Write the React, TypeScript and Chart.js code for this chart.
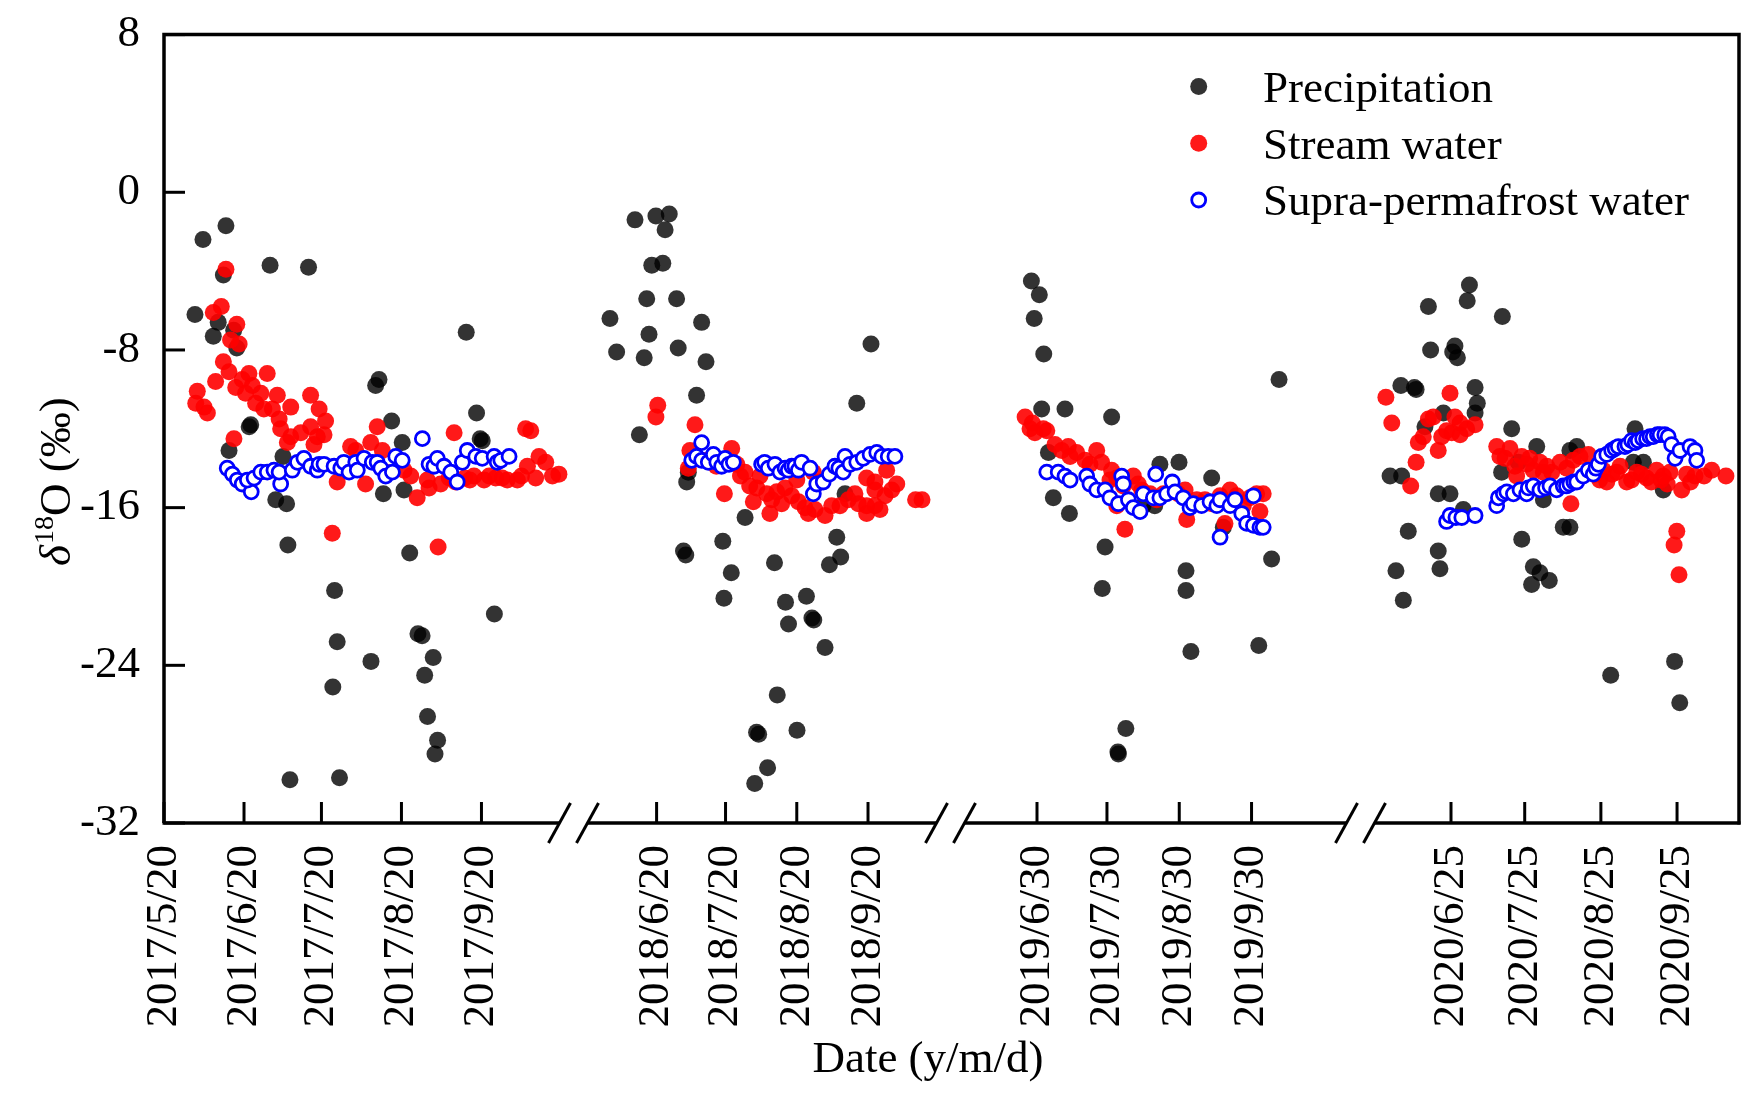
import React, { useEffect, useRef } from 'react';
import { Chart, registerables } from 'chart.js';

Chart.register(...registerables);

// Each pair is [days after the year's first labelled date, δ18O in ‰]
const precip2017: [number, number][] = [
  [12, -6.2], [15.1, -2.4], [19.1, -7.3], [21, -6.6], [23, -4.2], [24, -1.7], [25.2, -13.1], [27, -7.0],
  [28.2, -7.9], [33, -11.9], [33.6, -11.8], [41.1, -3.7], [43.3, -15.6], [46.1, -13.4], [47.5, -15.8],
  [48, -17.9], [48.8, -29.8], [56, -3.8], [65.4, -25.1], [66.1, -20.2], [67.1, -22.8], [68, -29.7],
  [80.2, -23.8], [82, -9.8], [83.3, -9.5], [85, -15.3], [88.2, -11.6], [92.3, -12.7], [93, -15.1],
  [95.2, -18.3], [98.4, -22.4], [100, -22.5], [101, -24.5], [102.1, -26.6], [104.3, -23.6], [105, -28.5],
  [106, -27.8], [117.1, -7.1], [121.1, -11.2], [122.5, -12.5], [123.3, -12.6], [128, -21.4],
];
const stream2017: [number, number][] = [
  [24, -3.9], [19.1, -6.1], [22.2, -5.8], [28.2, -6.7], [25.8, -7.5], [29.1, -7.7], [23, -8.6], [25.2, -9.1],
  [20, -9.6], [12.9, -10.1], [12.3, -10.7], [15.5, -10.9], [16.8, -11.2], [27.8, -9.9], [30.3, -9.5],
  [32.9, -9.2], [34.2, -9.8], [31.6, -10.2], [37.5, -10.2], [40, -9.2], [43.9, -10.3], [35.5, -10.7],
  [38.7, -11.0], [42, -11.0], [44.6, -11.5], [49.1, -10.9], [56.8, -10.3], [60.1, -11.0], [62.6, -11.6],
  [45.2, -12.0], [49.1, -12.4], [53, -12.2], [56.8, -11.9], [59.4, -12.4], [62, -12.3], [58.1, -12.8],
  [47.8, -12.7], [27.1, -12.5], [82.6, -11.9], [112.4, -12.2], [140.1, -12.0], [142.1, -12.1], [74.3, -13.1],
  [72.3, -12.9], [80.1, -12.7], [84.6, -13.1], [67.1, -14.7], [78.1, -14.8], [85.9, -14.2], [93, -14.1],
  [95.6, -14.4], [98.1, -15.5], [102, -14.6], [102.7, -15.0], [107.2, -14.8], [110.5, -14.5], [113, -14.7],
  [116.5, -14.5], [118.5, -14.6], [120.1, -14.4], [124, -14.6], [126, -14.4], [128.5, -14.5], [131, -14.5],
  [133, -14.6], [136.9, -14.6], [138.5, -14.4], [140.8, -13.9], [144, -14.5], [145.3, -13.4], [147.9, -13.7],
  [150.5, -14.4], [153, -14.3], [65.2, -17.3], [106.2, -18.0],
];
const supra2017: [number, number][] = [
  [24.5, -14.0], [26.5, -14.3], [28.4, -14.6], [30.3, -14.8], [33.8, -15.2], [32.3, -14.6], [34.9, -14.5],
  [37.5, -14.2], [40, -14.2], [42.6, -14.1], [45.2, -14.8], [44.6, -14.2], [49.7, -14.1], [51.7, -13.7],
  [54.2, -13.5], [56.8, -13.9], [59.4, -14.1], [60.1, -13.8], [62, -13.8], [65.9, -13.9], [68.5, -14.0],
  [69.7, -13.7], [71.7, -14.2], [74.3, -13.7], [74.9, -14.1], [77.5, -13.5], [80.7, -13.7], [82.6, -13.7],
  [84, -14.0], [85.9, -14.4], [88.5, -14.2], [89.8, -13.4], [92.3, -13.6], [100.1, -12.5], [102.7, -13.8],
  [104.6, -13.9], [105.9, -13.5], [108.5, -13.9], [111.1, -14.2], [113.6, -14.7], [115.6, -13.7],
  [117.5, -13.1], [120.8, -13.4], [123.3, -13.5], [127.9, -13.4], [129.1, -13.7], [130.5, -13.6], [133.7, -13.4],
];

const precip2018: [number, number][] = [
  [-9.4, -1.4], [-0.3, -1.2], [5.5, -1.1], [3.7, -1.9], [-2.1, -3.7], [2.7, -3.6], [-4.3, -5.4], [8.7, -5.4],
  [-20.3, -6.4], [19.6, -6.6], [-3.3, -7.2], [-17.4, -8.1], [-5.4, -8.4], [9.4, -7.9], [21.5, -8.6],
  [17.4, -10.3], [93.3, -7.7], [87.1, -10.7], [-7.5, -12.3], [13.8, -14.2], [13.1, -14.7], [38.5, -16.5],
  [28.8, -17.7], [78.4, -17.5], [82, -15.3], [11.7, -18.2], [12.7, -18.4], [32.5, -19.3], [29.3, -20.6],
  [51.3, -18.8], [56.1, -20.8], [57.4, -21.9], [65.2, -20.5], [67.6, -21.6], [68.4, -21.7], [73.3, -23.1],
  [75.2, -18.9], [80.1, -18.5], [52.5, -25.5], [43.5, -27.4], [44.4, -27.5], [61.1, -27.3], [48.3, -29.2],
  [42.7, -30.0],
];
const stream2018: [number, number][] = [
  [0.5, -10.8], [-0.3, -11.4], [16.7, -11.8], [14.5, -13.1], [13.8, -14.0], [32.7, -13.0], [29.5, -15.3],
  [34.9, -13.8], [38.5, -14.2], [22, -13.6], [26, -13.9], [36.5, -14.4], [40.5, -14.9], [45, -14.4],
  [43.6, -15.0], [42.1, -15.7], [49.3, -16.3], [50.1, -15.6], [52.3, -15.2], [55.9, -15.0], [58.8, -15.4],
  [61.7, -15.7], [64.6, -16.0], [66, -16.3], [68.9, -16.1], [73.3, -16.4], [76.2, -15.9], [79.8, -15.9],
  [83.4, -15.6], [86.3, -15.3], [87.8, -15.8], [91.4, -15.9], [91.4, -16.3], [95, -15.9], [97.2, -16.1],
  [99.4, -15.4], [102.3, -15.1], [104.5, -14.8], [95, -14.7], [91.4, -14.5], [95, -15.1], [100.1, -14.1],
  [112.7, -15.6], [115.5, -15.6], [68.2, -14.2], [71.1, -14.7], [61, -14.6], [54.4, -15.8], [47.9, -15.3],
];
const supra2018: [number, number][] = [
  [19.6, -12.7], [15.3, -13.6], [17.4, -13.4], [19.6, -13.6], [22.5, -13.7], [24.7, -13.3], [26.2, -13.7],
  [28.3, -13.9], [29.8, -13.5], [31.5, -13.8], [33.4, -13.7], [45.7, -13.8], [47, -13.7], [48.6, -14.0],
  [51.5, -13.8], [53.7, -14.2], [55.9, -14.0], [57.3, -14.1], [58.8, -13.9], [60.2, -13.9], [61.7, -14.1],
  [63.1, -13.7], [66.8, -14.0], [68.2, -15.3], [69.7, -14.8], [72.5, -14.7], [75.2, -14.3], [77.6, -13.9],
  [79.3, -14.0], [82, -13.4], [81.2, -14.2], [84.2, -13.8], [87.1, -13.7], [89.9, -13.5], [92.9, -13.3],
  [95.8, -13.2], [98, -13.4], [100.8, -13.4], [103.7, -13.4],
];

const precip2019: [number, number][] = [
  [-2.4, -4.5], [1, -5.2], [-1.2, -6.4], [2.9, -8.2], [2, -11.0], [12, -11.0], [32, -11.4], [103.8, -9.5],
  [4.9, -13.2], [52.7, -13.8], [60.9, -13.7], [74.9, -14.5], [7, -15.5], [13.9, -16.3], [45.5, -15.9],
  [50.5, -15.9], [79.9, -17.0], [29.2, -18.0], [100.6, -18.6], [63.9, -19.2], [28, -20.1], [63.9, -20.2],
  [66, -23.3], [95.1, -23.0], [38.1, -27.2], [34.7, -28.4], [34.9, -28.5],
];
const stream2019: [number, number][] = [
  [-5.1, -11.4], [-3, -12.0], [-2, -11.7], [-0.9, -12.2], [2.7, -12.0], [4.2, -12.1], [7.7, -12.8],
  [13.4, -12.9], [10.6, -13.1], [14.2, -13.4], [17, -13.2], [20.6, -13.6], [25.6, -13.1], [22.7, -13.8],
  [27.7, -13.7], [32, -14.1], [31.3, -14.6], [34.2, -14.5], [37, -14.9], [34.2, -15.9], [41.3, -14.4],
  [43.4, -14.8], [44.9, -15.1], [37.7, -17.1], [48.5, -15.3], [51.3, -15.6], [54.2, -15.3], [57.8, -15.1],
  [60.6, -15.3], [63.5, -15.1], [64.2, -16.6], [65.6, -15.8], [68.5, -15.6], [72, -15.6], [75, -15.8],
  [78.5, -15.4], [82.8, -15.1], [85.6, -15.4], [88.5, -15.9], [91.3, -15.5], [94.2, -15.3], [97, -15.3],
  [95.6, -16.2], [80.6, -16.8],
];
const supra2019: [number, number][] = [
  [4.2, -14.2], [9.1, -14.2], [12, -14.4], [14.2, -14.6], [21.3, -14.4], [22.7, -14.8], [25.6, -15.1],
  [29.2, -15.1], [31.3, -15.5], [34.9, -15.8], [36.3, -14.4], [37, -14.8], [39.2, -15.6], [41.3, -16.0],
  [44.2, -16.2], [45.6, -15.3], [49.9, -15.5], [52.7, -15.5], [55.6, -15.3], [50.9, -14.3], [58, -14.7],
  [59.2, -15.2], [62.7, -15.5], [65.6, -16.0], [67, -15.8], [70.6, -15.9], [74.2, -15.7], [77.1, -15.9],
  [78.5, -15.6], [82.8, -15.9], [84.9, -15.6], [87.8, -16.3], [89.9, -16.8], [92.8, -16.9], [95.6, -17.0],
  [97, -17.0], [92.8, -15.4], [78.5, -17.5],
];

const precip2020: [number, number][] = [
  [7.5, -4.7], [6.6, -5.5], [-9.2, -5.8], [20.9, -6.3], [-8.3, -8.0], [1.6, -7.8], [0.7, -8.1], [2.6, -8.4],
  [-20.4, -9.8], [-14.9, -9.9], [-14.2, -10.0], [9.8, -9.9], [10.7, -10.7], [9.8, -11.2], [-3.1, -11.2],
  [-10.6, -11.9], [24.7, -12.0], [34.9, -12.9], [27.4, -13.7], [20.6, -14.2], [51.2, -12.9], [48.4, -13.1],
  [74.9, -12.0], [74.2, -13.7], [78.3, -13.7], [86.4, -15.1], [-24.8, -14.4], [-20.1, -14.4], [-5.2, -15.3],
  [-0.4, -15.3], [5, -16.1], [37.6, -15.6], [-17.4, -17.2], [-5.2, -18.2], [-4.5, -19.1], [28.8, -17.6],
  [45.7, -17.0], [48.4, -17.0], [-22.4, -19.2], [-19.4, -20.7], [33.5, -19.0], [36.2, -19.3], [32.8, -19.9],
  [40, -19.7], [65, -24.5], [91, -23.8], [93.1, -25.9],
];
const stream2020: [number, number][] = [
  [-26.5, -10.4], [-24.1, -11.7], [-0.4, -10.2], [-16.4, -14.9], [-14.2, -13.7], [-13.3, -12.7],
  [-11.3, -12.4], [-9.2, -11.5], [-7.2, -11.4], [-5.2, -13.1], [-3.8, -12.4], [-1.8, -12.1], [0.3, -12.2],
  [1.6, -11.4], [3.7, -11.7], [3.7, -12.3], [6.4, -12.0], [9.8, -11.8], [18.6, -12.9], [19.9, -13.4],
  [22, -13.5], [24, -13.0], [26, -13.9], [28.8, -13.4], [30.8, -13.8], [32, -13.5], [33.5, -14.1],
  [36.2, -13.7], [37.6, -14.2], [39, -13.9], [41, -14.2], [26.7, -14.4], [44.4, -13.7], [47.1, -14.0],
  [49.8, -13.6], [52.5, -13.4], [55.9, -13.3], [48.8, -15.8], [58.6, -14.3], [60.5, -14.6], [62, -14.1],
  [63.4, -14.7], [65.5, -14.3], [67.4, -14.2], [68.8, -13.9], [71.5, -14.7], [73.5, -14.6], [75.6, -14.2],
  [77.5, -14.3], [79.6, -14.5], [81.5, -14.7], [83.7, -14.1], [85.5, -14.6], [86.4, -14.4], [88, -14.8],
  [89.1, -14.2], [93.9, -15.1], [95.9, -14.3], [97.5, -14.7], [99.3, -14.4], [103, -14.4], [106.1, -14.1],
  [111.9, -14.4], [91.9, -17.2], [90.8, -17.9], [92.8, -19.4],
];
const supra2020: [number, number][] = [
  [-1.8, -16.7], [-0.4, -16.4], [2, -16.5], [4.4, -16.5], [9.8, -16.4], [18.6, -15.9], [19.3, -15.5],
  [21.3, -15.3], [22.7, -15.2], [25.4, -15.3], [28.1, -15.1], [30.8, -15.3], [31.5, -15.0], [33.5, -14.9],
  [36.2, -15.1], [38.5, -15.0], [40.3, -14.9], [43, -15.1], [45.7, -14.9], [47, -14.9], [48.4, -14.8],
  [50, -14.7], [51.2, -14.7], [53.8, -14.4], [55.9, -14.1], [57.9, -14.3], [59, -14.0], [60, -13.8],
  [61.3, -13.4], [63.4, -13.3], [65.4, -13.1], [66.8, -13.0], [68.1, -12.9], [70.8, -12.9], [72, -12.8],
  [73.5, -12.6], [75, -12.7], [76.2, -12.6], [78, -12.5], [79.6, -12.5], [81, -12.4], [82.3, -12.4],
  [84, -12.3], [85.1, -12.3], [87, -12.3], [88.4, -12.4], [89.8, -12.8], [91.2, -13.5], [93.2, -13.1],
  [97.3, -12.9], [99.3, -13.1], [100, -13.6],
];

// tick labels of each season and their day offsets from the season's first label
const labels2017 = ['2017/5/20', '2017/6/20', '2017/7/20', '2017/8/20', '2017/9/20'];
const tickDays2017 = [0, 31, 61, 92, 123];
const labels2018 = ['2018/6/20', '2018/7/20', '2018/8/20', '2018/9/20'];
const tickDays2018 = [0, 30, 61, 92];
const labels2019 = ['2019/6/30', '2019/7/30', '2019/8/30', '2019/9/30'];
const tickDays2019 = [0, 30, 61, 92];
const labels2020 = ['2020/6/25', '2020/7/25', '2020/8/25', '2020/9/25'];
const tickDays2020 = [0, 30, 61, 92];

const yTicks = [8, 0, -8, -16, -24, -32];

// broken x axis: where each season starts along the axis, and its stretch
const AXIS_LEN = 1575;
const segments = [
  { start: 0, perDay: 2.581 },
  { start: 492.6, perDay: 2.298 },
  { start: 873, perDay: 2.332 },
  { start: 1287, perDay: 2.457 },
];
const breaks = [409.5, 786.5, 1196.5];

const FONT = "'Liberation Serif', 'Times New Roman', serif";

const toAxis = (seg: number, day: number) => segments[seg].start + day * segments[seg].perDay;
const toPoints = (seg: number, arr: [number, number][]) => arr.map(([d, v]) => ({ x: toAxis(seg, d), y: v }));

const tickValues = [
  ...tickDays2017.map(d => toAxis(0, d)),
  ...tickDays2018.map(d => toAxis(1, d)),
  ...tickDays2019.map(d => toAxis(2, d)),
  ...tickDays2020.map(d => toAxis(3, d)),
];
const tickLabels = [...labels2017, ...labels2018, ...labels2019, ...labels2020];

const frameAndLegend = {
  id: 'frameAndLegend',
  afterDraw(chart: any) {
    const { ctx, chartArea } = chart;
    const { left, right, top, bottom } = chartArea;
    const xs = chart.scales.x;
    const ys = chart.scales.y;
    ctx.save();
    ctx.strokeStyle = '#000';
    ctx.lineWidth = 3.5;
    ctx.lineCap = 'butt';

    // frame: left, top, right
    ctx.beginPath();
    ctx.moveTo(left, bottom);
    ctx.lineTo(left, top);
    ctx.lineTo(right, top);
    ctx.lineTo(right, bottom + 1.5);
    ctx.stroke();

    // bottom axis with breaks
    const half = 14;
    let from = left - 1.5;
    breaks.forEach(b => {
      const cx = xs.getPixelForValue(b);
      ctx.beginPath();
      ctx.moveTo(from, bottom);
      ctx.lineTo(cx - half, bottom);
      ctx.stroke();
      from = cx + half;
    });
    ctx.beginPath();
    ctx.moveTo(from, bottom);
    ctx.lineTo(right + 1.5, bottom);
    ctx.stroke();

    ctx.lineWidth = 3;
    breaks.forEach(b => {
      const cx = xs.getPixelForValue(b);
      [cx - half, cx + half].forEach(sx => {
        ctx.beginPath();
        ctx.moveTo(sx - 11, bottom + 20);
        ctx.lineTo(sx + 11, bottom - 20);
        ctx.stroke();
      });
    });

    // inward ticks
    tickValues.forEach(v => {
      const px = xs.getPixelForValue(v);
      ctx.beginPath();
      ctx.moveTo(px, bottom);
      ctx.lineTo(px, bottom - 21);
      ctx.stroke();
    });
    yTicks.forEach(v => {
      const py = ys.getPixelForValue(v);
      ctx.beginPath();
      ctx.moveTo(left, py);
      ctx.lineTo(left + 21, py);
      ctx.stroke();
    });

    // legend
    const items = [
      { label: 'Precipitation', fill: 'rgba(0,0,0,0.8)', stroke: null },
      { label: 'Stream water', fill: 'rgba(255,0,0,0.9)', stroke: null },
      { label: 'Supra-permafrost water', fill: '#fff', stroke: '#0000ff' },
    ];
    const legendTop = 86.4;
    const legendStep = 56.8;
    items.forEach((it, i) => {
      const y = legendTop + i * legendStep;
      ctx.beginPath();
      ctx.arc(1198.7, y, it.stroke ? 7 : 8.5, 0, Math.PI * 2);
      ctx.fillStyle = it.fill;
      ctx.fill();
      if (it.stroke) {
        ctx.lineWidth = 2.8;
        ctx.strokeStyle = it.stroke;
        ctx.stroke();
      }
      ctx.fillStyle = '#000';
      ctx.font = `45px ${FONT}`;
      ctx.textAlign = 'left';
      ctx.textBaseline = 'alphabetic';
      ctx.fillText(it.label, 1263, y + 15.4);
    });

    // x title
    ctx.font = `45px ${FONT}`;
    ctx.textAlign = 'center';
    ctx.fillText('Date (y/m/d)', 928, 1072);

    // y title, rotated
    ctx.save();
    ctx.translate(70, 566);
    ctx.rotate(-Math.PI / 2);
    ctx.textAlign = 'left';
    let x = 0;
    ctx.font = `italic 45px ${FONT}`;
    ctx.fillText('δ', x, 0);
    x += ctx.measureText('δ').width + 1;
    ctx.font = `28px ${FONT}`;
    ctx.fillText('18', x, -17);
    x += ctx.measureText('18').width;
    ctx.font = `45px ${FONT}`;
    ctx.fillText('O (‰)', x, 0);
    ctx.restore();

    ctx.restore();
  },
};

export default function App() {
  const chartRef = useRef<HTMLCanvasElement>(null);
  const chartInstance = useRef<Chart | null>(null);

  useEffect(() => {
    if (!chartRef.current) return;
    if (chartInstance.current) chartInstance.current.destroy();
    const ctx = chartRef.current.getContext('2d');
    if (!ctx) return;

    chartInstance.current = new Chart(ctx, {
      type: 'scatter',
      data: {
        datasets: [
          {
            label: 'Supra-permafrost water',
            data: [
              ...toPoints(0, supra2017), ...toPoints(1, supra2018),
              ...toPoints(2, supra2019), ...toPoints(3, supra2020),
            ],
            pointRadius: 7,
            pointBorderWidth: 2.8,
            pointBackgroundColor: '#ffffff',
            pointBorderColor: '#0000ff',
            order: 0,
          },
          {
            label: 'Stream water',
            data: [
              ...toPoints(0, stream2017), ...toPoints(1, stream2018),
              ...toPoints(2, stream2019), ...toPoints(3, stream2020),
            ],
            pointRadius: 8.5,
            pointBorderWidth: 0,
            pointBackgroundColor: 'rgba(255,0,0,0.9)',
            order: 1,
          },
          {
            label: 'Precipitation',
            data: [
              ...toPoints(0, precip2017), ...toPoints(1, precip2018),
              ...toPoints(2, precip2019), ...toPoints(3, precip2020),
            ],
            pointRadius: 8.5,
            pointBorderWidth: 0,
            pointBackgroundColor: 'rgba(0,0,0,0.8)',
            order: 2,
          },
        ],
      },
      options: {
        responsive: false,
        animation: false,
        layout: { padding: { top: 34.6, right: 20, left: 0, bottom: 0 } },
        plugins: { legend: { display: false }, tooltip: { enabled: false } },
        scales: {
          x: {
            type: 'linear',
            min: 0,
            max: AXIS_LEN,
            grid: { display: false, drawTicks: false },
            border: { display: false },
            afterBuildTicks: (scale: any) => {
              scale.ticks = tickValues.map(v => ({ value: v }));
            },
            afterFit: (scale: any) => {
              scale.height = 1104 - 823;
            },
            ticks: {
              autoSkip: false,
              minRotation: 90,
              maxRotation: 90,
              padding: 22,
              color: '#000',
              font: { family: FONT, size: 45 },
              callback: (_v: any, i: number) => tickLabels[i],
            },
          },
          y: {
            min: -32,
            max: 8,
            grid: { display: false, drawTicks: false },
            border: { display: false },
            afterFit: (scale: any) => {
              scale.width = 164;
              // the tick padding is meant for the gap to the axis only
              scale.paddingTop = 20;
              scale.paddingBottom = 20;
            },
            ticks: {
              stepSize: 8,
              padding: 24,
              color: '#000',
              font: { family: FONT, size: 45 },
            },
          },
        },
      },
      plugins: [frameAndLegend],
    });

    return () => {
      if (chartInstance.current) {
        chartInstance.current.destroy();
        chartInstance.current = null;
      }
    };
  }, []);

  return (
    <div style={{ position: 'fixed', left: 0, top: 0, width: 1759, height: 1104, background: '#fff' }}>
      <canvas ref={chartRef} width={1759} height={1104} style={{ display: 'block' }}></canvas>
    </div>
  );
}
